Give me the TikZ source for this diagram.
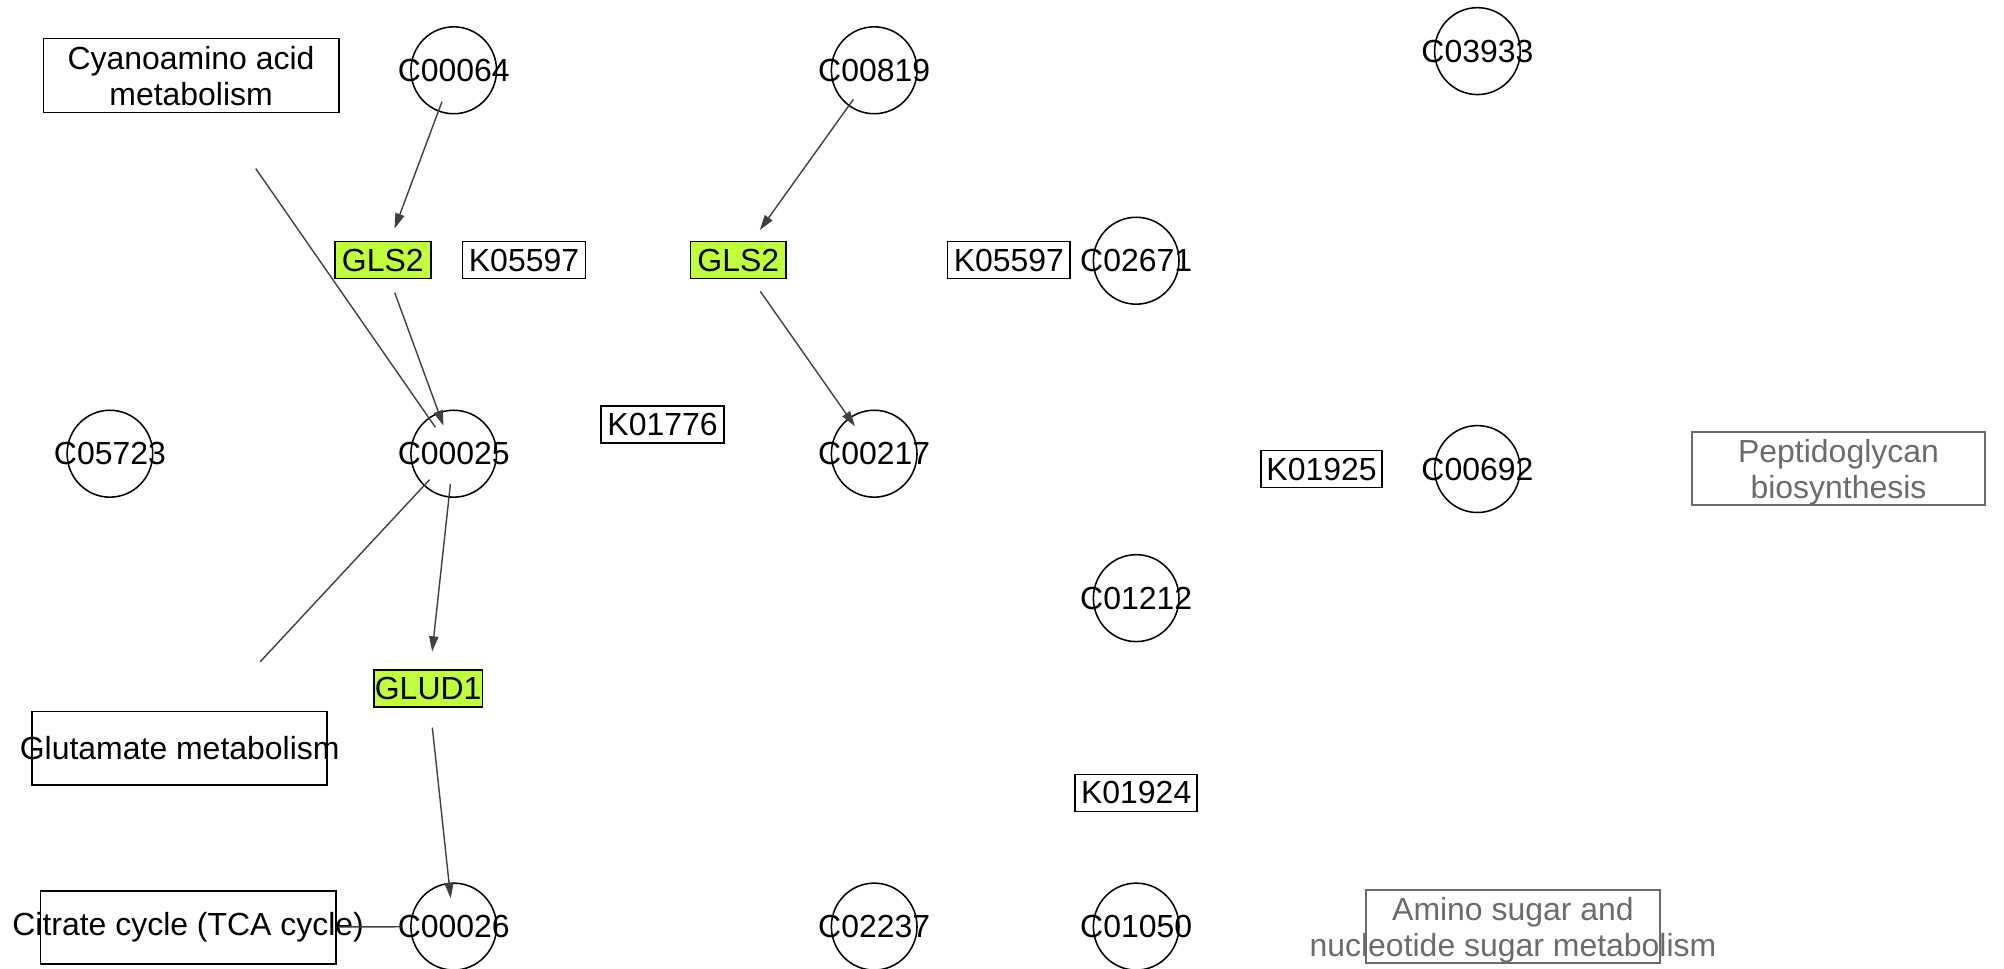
\documentclass[tikz,border=0pt]{standalone}
\usepackage{fontspec}
\setmainfont{Liberation Sans}
\usetikzlibrary{shapes.geometric,arrows.meta}
\definecolor{edgec}{HTML}{404040}
\definecolor{genegreen}{RGB}{191,255,62}
\definecolor{mapgray}{HTML}{6B6B6B}
\newcommand\zw[1]{\makebox[0pt][c]{#1}}
\newcommand\twol[2]{\makebox[0pt][c]{\raisebox{-2pt}[\height][\depth]{\begin{tabular}{@{}c@{}}#1\\#2\end{tabular}}}}
\begin{document}
\begin{tikzpicture}[x=0.5pt,y=-0.5pt,
  font=\fontsize{12.5}{14}\selectfont,
  cpd/.style={ellipse,draw,line width=0.6pt,minimum width=33.5pt,minimum height=34pt,inner sep=0pt},
  gene/.style={rectangle,draw,line width=0.65pt,minimum height=14.5pt,inner sep=0pt},
  hit/.style={gene,fill=genegreen},
  pmap/.style={rectangle,draw,line width=0.65pt,inner sep=0pt},
  graymap/.style={pmap,draw=mapgray,text=mapgray},
  edge/.style={draw=edgec,line width=0.55pt},
  arr/.style={edge,-{Triangle[length=6pt,width=3.6pt]}}]
\path[use as bounding box] (0,0) rectangle (1568,758);

% compounds
\node[cpd] (C00064) at (355,55) {\zw{C00064}};
\node[cpd] (C00819) at (684,55) {\zw{C00819}};
\node[cpd] (C03933) at (1156,40) {\zw{C03933}};
\node[cpd] (C02671) at (889,204) {\zw{C02671}};
\node[cpd] (C05723) at (86,355) {\zw{C05723}};
\node[cpd] (C00025) at (355,355) {\zw{C00025}};
\node[cpd] (C00217) at (684,355) {\zw{C00217}};
\node[cpd] (C00692) at (1156,367) {\zw{C00692}};
\node[cpd] (C01212) at (889,468) {\zw{C01212}};
\node[cpd] (C00026) at (355,725) {\zw{C00026}};
\node[cpd] (C02237) at (684,725) {\zw{C02237}};
\node[cpd] (C01050) at (889,725) {\zw{C01050}};

% genes / orthologs
\node[hit,minimum width=37.5pt] (GLS2a) at (299.5,203.5) {\zw{GLS2}};
\node[gene,minimum width=48pt] (K05597a) at (410,203.5) {\zw{K05597}};
\node[hit,minimum width=37.5pt] (GLS2b) at (577.7,203.5) {\zw{GLS2}};
\node[gene,minimum width=48pt] (K05597b) at (789.4,203.5) {\zw{K05597}};
\node[gene,minimum width=48pt] (K01776) at (518.4,332) {\zw{K01776}};
\node[gene,minimum width=47.5pt] (K01925) at (1034,367) {\zw{K01925}};
\node[gene,minimum width=47.7pt] (K01924) at (889,620.4) {\zw{K01924}};
\node[hit,minimum width=42.5pt] (GLUD1) at (335,538.7) {\zw{GLUD1}};

% pathway maps
\node[pmap,minimum width=115.5pt,minimum height=29pt] (cyano) at (149.5,59) {\twol{Cyanoamino acid}{metabolism}};
\node[pmap,minimum width=115.5pt,minimum height=28.7pt] (glut) at (140.6,585.5) {\zw{Glutamate metabolism}};
\node[pmap,minimum width=115.5pt,minimum height=28.8pt] (tca) at (147.2,725.7) {\zw{Citrate cycle (TCA cycle)}};
\node[graymap,minimum width=114.5pt,minimum height=28.5pt] (pepti) at (1438.5,366.5) {\twol{Peptidoglycan}{biosynthesis}};
\node[graymap,minimum width=114.8pt,minimum height=28.5pt] (amino) at (1183.8,725) {\twol{Amino sugar and}{nucleotide sugar metabolism}};

% edges
\draw[arr,shorten <=13.1pt,shorten >=13.1pt] (C00064.center) -- (GLS2a.center);
\draw[arr,shorten <=13.6pt,shorten >=11.6pt] (GLS2a.center) -- (C00025.center);
\draw[edge,shorten <=44.4pt,shorten >=12.6pt] (cyano.center) -- (C00025.center);
\draw[arr,shorten <=14pt,shorten >=14.4pt] (C00819.center) -- (GLS2b.center);
\draw[arr,shorten <=15pt,shorten >=13.1pt] (GLS2b.center) -- (C00217.center);
\draw[arr,shorten <=12pt,shorten >=14.5pt] (C00025.center) -- (GLUD1.center);
\draw[edge,shorten <=13.9pt,shorten >=46.2pt] (C00025.center) -- (glut.center);
\draw[arr,shorten <=15.4pt,shorten >=11.2pt] (GLUD1.center) -- (C00026.center);
\draw[edge,shorten <=20pt,shorten >=58.7pt] (C00026.center) -- (tca.center);
\end{tikzpicture}
\end{document}
